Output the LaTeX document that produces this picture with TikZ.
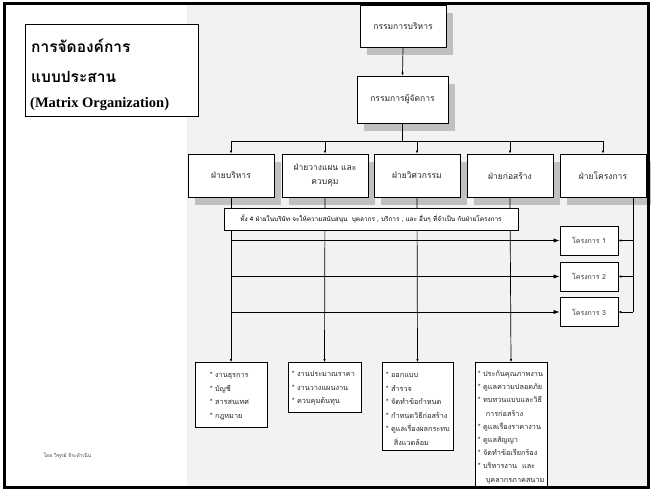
\documentclass[tikz,border=0pt]{standalone}
\usepackage{fontspec}
\setmainfont{Liberation Serif}
\newfontfamily\thai[Script=Thai]{Loma}
\usetikzlibrary{arrows.meta,shadows,calc}
\definecolor{panel}{HTML}{F2F2F2}
\definecolor{shade}{HTML}{C0C0C0}
\begin{document}
\begin{tikzpicture}[x=1pt,y=-1pt,
  orgbox/.style={draw=black, line width=0.8pt, fill=white,
    general shadow={fill=shade, shadow xshift=7pt, shadow yshift=-8pt},
    font=\thai\fontsize{8.5}{12}\selectfont, align=center, inner sep=2pt,
    text=black!85},
  deptbox/.style={orgbox, minimum width=86pt, minimum height=43pt},
  projbox/.style={draw=black, line width=0.8pt, fill=white,
    minimum width=58pt, minimum height=29pt,
    font=\thai\fontsize{7}{8}\selectfont, text=black!80},
  notebox/.style={draw=black, line width=0.7pt, fill=white,
    minimum width=294pt, minimum height=22pt,
    font=\thai\fontsize{6.4}{8}\selectfont},
  taskbox/.style={draw=black, line width=0.8pt, fill=white, anchor=north},
  tasktext/.style={anchor=north west, inner sep=0pt, align=left,
    font=\thai\fontsize{7.3}{13.6}\selectfont, text=black!85},
  link/.style={line width=0.7pt},
  tip/.style={link, -{Latex[length=3pt,width=2.6pt]}},
  bigtip/.style={link, -{Latex[length=6pt,width=4.2pt]}}]
\useasboundingbox (0,0) rectangle (651,490);

% page background and grey working area
\fill[white] (0,0) rectangle (651,490);
\fill[panel] (187,4) rectangle (648,487);

% title panel
\node[draw=black, line width=0.8pt, fill=white, minimum width=173pt,
  minimum height=92pt, anchor=north west] (title) at (25,24) {};
\node[anchor=west, inner sep=0pt, font=\thai\bfseries\fontsize{15.5}{18}\selectfont]
  (t1) at (31,46) {การจัดองค์การ};
\node[anchor=west, inner sep=0pt, font=\thai\bfseries\fontsize{15.5}{18}\selectfont]
  (t2) at (31,77) {แบบประสาน};
\node[anchor=west, inner sep=0pt, font=\bfseries\fontsize{14.5}{17}\selectfont]
  (t3) at (30,104) {(Matrix Organization)};

% author line
\node[font=\thai\fontsize{5}{6}\selectfont, text=black!75, anchor=west]
  (author) at (40,456) {โดย วิฑูรย์ จิระดำเนิน};

% management chain
\node[orgbox, minimum width=86pt, minimum height=42pt] (board) at (403,26) {กรรมการบริหาร};
\node[orgbox, minimum width=91pt, minimum height=47pt] (md) at (402.5,99.5) {กรรมการผู้จัดการ};

% departments
\node[deptbox] (d1) at (231,175.5) {ฝ่ายบริหาร};
\node[deptbox] (d2) at (325,175.5) {ฝ่ายวางแผน และ\\[2pt]ควบคุม};
\node[deptbox] (d3) at (417,175.5) {ฝ่ายวิศวกรรม};
\node[deptbox] (d4) at (510,175.5) {ฝ่ายก่อสร้าง};
\node[deptbox] (d5) at (603,175.5) {ฝ่ายโครงการ};

% projects
\node[projbox] (p1) at (589,240.5) {โครงการ 1};
\node[projbox] (p2) at (589,276.5) {โครงการ 2};
\node[projbox] (p3) at (589,312) {โครงการ 3};

% task lists of the four support departments
\node[taskbox, minimum width=72pt, minimum height=65pt] (tA) at (231,362) {};
\node[taskbox, minimum width=73pt, minimum height=50pt] (tB) at (324.5,362) {};
\node[taskbox, minimum width=71pt, minimum height=88pt] (tC) at (417.5,362) {};
\node[taskbox, minimum width=72pt, minimum height=126pt] (tD) at (511,362) {};

% connectors
\coordinate (bus) at ($(md.south)+(0,18)$);
\draw[tip] (board.south) -- (md.north);
\draw[link] (md.south) -- (bus);
\draw[link] (d1.north |- bus) -- (d5.north |- bus);
\foreach \d in {d1,d2,d3,d4,d5}
  \draw[tip] (\d.north |- bus) -- (\d.north);

\draw[tip] (d1.south) -- (tA.north);
\draw[tip] (d2.south) -- (tB.north);
\draw[tip] (d3.south) -- (tC.north);
\draw[tip] (d4.south) -- (tD.north);

\foreach \p in {p1,p2,p3}
  \draw[bigtip] (d1.south |- \p.west) -- (\p.west);

\coordinate (rtop) at ($(d5.south)+(30,0)$);
\draw[link] (rtop) -- (rtop |- p3.east);
\foreach \p in {p1,p2,p3}
  \draw[tip] (rtop |- \p.east) -- (\p.east);

% shared-support note over the department lines
\node[notebox] (note) at (371,219)
  {ทั้ง 4 ฝ่ายในบริษัท จะให้ความสนับสนุน\ \ บุคลากร , บริการ , และ อื่นๆ ที่จำเป็น กับฝ่ายโครงการ};

% task texts
\node[tasktext] (xA) at ([xshift=15pt,yshift=-10pt]tA.north west)
  {* งานธุรการ\\* บัญชี\\* สารสนเทศ\\* กฎหมาย};
\node[tasktext] (xB) at ([xshift=4pt,yshift=-9pt]tB.north west)
  {* งานประมาณราคา\\* งานวางแผนงาน\\* ควบคุมต้นทุน};
\node[tasktext] (xC) at ([xshift=4pt,yshift=-10pt]tC.north west)
  {* ออกแบบ\\* สำรวจ\\* จัดทำข้อกำหนด\\* กำหนดวิธีก่อสร้าง\\* ดูแลเรื่องผลกระทบ\\\hspace*{8pt}สิ่งแวดล้อม};
\node[tasktext, font=\thai\fontsize{7.3}{13.2}\selectfont] (xD)
  at ([xshift=3pt,yshift=-8.5pt]tD.north west)
  {* ประกันคุณภาพงาน\\* ดูแลความปลอดภัย\\* ทบทวนแบบและวิธี\\\hspace*{8pt}การก่อสร้าง\\* ดูแลเรื่องราคางาน\\* ดูแลสัญญา\\* จัดทำข้อเรียกร้อง\\* บริหารงาน\ \ และ\\\hspace*{8pt}บุคลากรภาคสนาม};

% page frame
\draw[line width=3pt] (4.5,3.5) rectangle (648.5,487.5);
\end{tikzpicture}
\end{document}
